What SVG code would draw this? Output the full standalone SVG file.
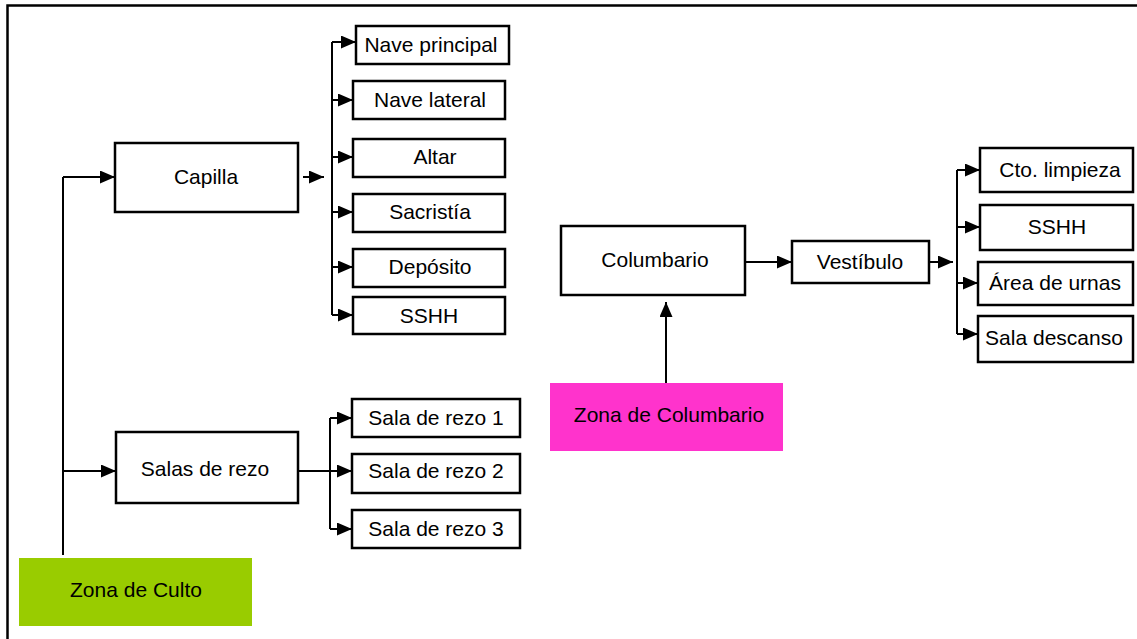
<svg xmlns="http://www.w3.org/2000/svg" width="1137" height="639" viewBox="0 0 1137 639">
<style>
.box{fill:#fff;stroke:#000;stroke-width:2.5}
.t{font-family:"Liberation Sans",Arial,sans-serif;font-size:21px;fill:#000;text-anchor:middle}
.c{fill:none;stroke:#000;stroke-width:2}
.a{marker-end:url(#ah)}
</style>
<defs>
<marker id="ah" markerUnits="userSpaceOnUse" markerWidth="16" markerHeight="14" refX="15" refY="6.5" orient="auto">
<path d="M0,0 L15,6.5 L0,13 z" fill="#000"/>
</marker>
</defs>
<rect x="7.5" y="5.5" width="1140" height="640" fill="#fff" stroke="#000" stroke-width="2.5"/>
<g id="connectors">
<path class="c" d="M63,555 V177"/>
<path class="c a" d="M63,177 H115"/>
<path class="c a" d="M63,471 H116"/>
<path class="c a" d="M303,177 H324"/>
<path class="c" d="M332,42 V315"/>
<path class="c a" d="M332,42 H356"/>
<path class="c a" d="M332,100 H353"/>
<path class="c a" d="M332,157 H353"/>
<path class="c a" d="M332,212 H353"/>
<path class="c a" d="M332,267 H353"/>
<path class="c a" d="M332,315 H353"/>
<path class="c a" d="M298,471 H352"/>
<path class="c" d="M330,418 V529"/>
<path class="c a" d="M330,418 H352"/>
<path class="c a" d="M330,529 H352"/>
<path class="c a" d="M666,383 V302"/>
<path class="c a" d="M745,262 H792"/>
<path class="c a" d="M929,262 H953"/>
<path class="c" d="M957,170 V334"/>
<path class="c a" d="M957,170 H980"/>
<path class="c a" d="M957,227 H980"/>
<path class="c a" d="M957,283 H978"/>
<path class="c a" d="M957,334 H978"/>
</g>
<g id="zona-culto"><rect x="19" y="558" width="233" height="68" fill="#99CC00"/><text class="t" x="136" y="597">Zona de Culto</text></g>
<g id="capilla"><rect class="box" x="115" y="143" width="183" height="69"/><text class="t" x="206" y="184">Capilla</text></g>
<g id="salas-rezo"><rect class="box" x="116" y="432" width="182" height="71"/><text class="t" x="205" y="476">Salas de rezo</text></g>
<g id="nave-principal"><rect class="box" x="356" y="26" width="153" height="38"/><text class="t" x="431" y="52">Nave principal</text></g>
<g id="nave-lateral"><rect class="box" x="353" y="81" width="152" height="38"/><text class="t" x="430" y="107">Nave lateral</text></g>
<g id="altar"><rect class="box" x="353" y="139" width="152" height="38"/><text class="t" x="435" y="164">Altar</text></g>
<g id="sacristia"><rect class="box" x="353" y="194" width="152" height="38"/><text class="t" x="430" y="219">Sacristía</text></g>
<g id="deposito"><rect class="box" x="353" y="249" width="152" height="38"/><text class="t" x="430" y="274">Depósito</text></g>
<g id="sshh-capilla"><rect class="box" x="353" y="297" width="152" height="37"/><text class="t" x="429" y="323">SSHH</text></g>
<g id="sala-rezo-1"><rect class="box" x="352" y="399" width="168" height="38"/><text class="t" x="436" y="425">Sala de rezo 1</text></g>
<g id="sala-rezo-2"><rect class="box" x="352" y="454" width="168" height="39"/><text class="t" x="436" y="478">Sala de rezo 2</text></g>
<g id="sala-rezo-3"><rect class="box" x="352" y="510" width="168" height="38"/><text class="t" x="436" y="536">Sala de rezo 3</text></g>
<g id="zona-columbario"><rect x="550" y="383" width="233" height="68" fill="#FF33CC"/><text class="t" x="669" y="422">Zona de Columbario</text></g>
<g id="columbario"><rect class="box" x="561" y="226" width="184" height="69"/><text class="t" x="655" y="267">Columbario</text></g>
<g id="vestibulo"><rect class="box" x="792" y="241" width="137" height="42"/><text class="t" x="860" y="269">Vestíbulo</text></g>
<g id="cto-limpieza"><rect class="box" x="980" y="148" width="153" height="44"/><text class="t" x="1060" y="177">Cto. limpieza</text></g>
<g id="sshh-columbario"><rect class="box" x="980" y="205" width="153" height="45"/><text class="t" x="1057" y="234">SSHH</text></g>
<g id="area-urnas"><rect class="box" x="978" y="262" width="155" height="43"/><text class="t" x="1055" y="290">Área de urnas</text></g>
<g id="sala-descanso"><rect class="box" x="978" y="316" width="155" height="46"/><text class="t" x="1054" y="345">Sala descanso</text></g>
</svg>
